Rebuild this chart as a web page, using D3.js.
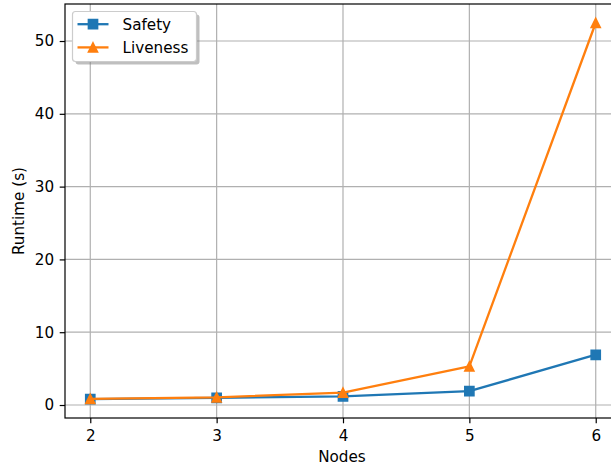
<!DOCTYPE html>
<html><head><meta charset="utf-8">
<script src="https://cdn.jsdelivr.net/npm/d3@7"></script>
<style>body{margin:0;background:#fff}svg{display:block;font-family:"DejaVu Sans",sans-serif}</style>
</head><body><svg id="c" width="611" height="468"></svg>
<script>
const nodes = [2, 3, 4, 5, 6];
const safety = [0.82, 0.97, 1.2, 1.9, 6.9];
const liveness = [0.85, 1.05, 1.7, 5.3, 52.5];
const yTicks = [0, 10, 20, 30, 40, 50];
const seriesNames = ["Safety", "Liveness"];
const colors = ["#1f77b4", "#ff7f0e"];

const FS = 15.2;
const svg = d3.select("#c");
const L = 65, R = 621, T = 4, B = 418;
const x = d3.scaleLinear().domain([1.8, 6.2]).range([L, R]);
const y = d3.scaleLinear().domain([-1.784, 55.084]).range([B, T]);

// matplotlib-like markers: square side = s, triangle base = height = s
const MS = 9.2;
const sq = { draw(ctx, s) { const h = MS / 2; ctx.moveTo(-h, -h); ctx.lineTo(h, -h); ctx.lineTo(h, h); ctx.lineTo(-h, h); ctx.closePath(); } };
const tri = { draw(ctx, s) { const h = MS / 2; ctx.moveTo(0, -h); ctx.lineTo(h, h); ctx.lineTo(-h, h); ctx.closePath(); } };
const markers = [sq, tri];

// grid
const g = svg.append("g");
g.selectAll(".gx").data(nodes).join("line")
  .attr("x1", d => x(d)).attr("x2", d => x(d)).attr("y1", T).attr("y2", B)
  .attr("stroke", "#b0b0b0").attr("stroke-width", 1.2);
g.selectAll(".gy").data(yTicks).join("line")
  .attr("y1", d => y(d)).attr("y2", d => y(d)).attr("x1", L).attr("x2", R)
  .attr("stroke", "#b0b0b0").attr("stroke-width", 1.2);

// axes
const xa = svg.append("g").attr("transform", `translate(0,${B})`)
  .call(d3.axisBottom(x).tickValues(nodes).tickFormat(d3.format("d")).tickSize(5.3).tickPadding(5.3));
const ya = svg.append("g").attr("transform", `translate(${L},0)`)
  .call(d3.axisLeft(y).tickValues(yTicks).tickSize(5.3).tickPadding(5.6));
[xa, ya].forEach(a => {
  a.select(".domain").remove();
  a.selectAll("text").attr("font-size", FS).attr("fill", "#000").attr("font-family", "DejaVu Sans");
  a.selectAll("line").attr("stroke", "#000").attr("stroke-width", 1.2);
});
xa.selectAll("text").attr("dy", "0.82em");

// series
const data = [safety, liveness];
data.forEach((vals, i) => {
  const pts = nodes.map((n, j) => [x(n), y(vals[j])]);
  svg.append("path").attr("d", d3.line()(pts)).attr("fill", "none")
    .attr("stroke", colors[i]).attr("stroke-width", 2.3).attr("stroke-linejoin", "round").attr("stroke-linecap", "square");
  svg.append("g").selectAll("path").data(pts).join("path")
    .attr("transform", d => `translate(${d[0]},${d[1]})`)
    .attr("d", d3.symbol().type(markers[i]).size(1)).attr("fill", colors[i])
    .attr("stroke", colors[i]).attr("stroke-width", 1.5);
});

// spines
svg.append("rect").attr("x", L).attr("y", T).attr("width", R - L).attr("height", B - T)
  .attr("fill", "none").attr("stroke", "#000").attr("stroke-width", 1.2);

// labels
svg.append("text").attr("x", 342).attr("y", 461.5).attr("text-anchor", "middle")
  .attr("font-size", FS).text("Nodes");
svg.append("text").attr("transform", `translate(24,${(T + B) / 2}) rotate(-90)`).attr("text-anchor", "middle")
  .attr("font-size", FS).text("Runtime (s)");

// legend
const lg = svg.append("g");
lg.append("rect").attr("x", 75.5).attr("y", 14.5).attr("width", 124).attr("height", 50).attr("rx", 3)
  .attr("fill", "#7f7f7f").attr("opacity", 0.5);
lg.append("rect").attr("x", 72.5).attr("y", 11.5).attr("width", 124).attr("height", 50).attr("rx", 3)
  .attr("fill", "#fff").attr("stroke", "#cccccc").attr("stroke-width", 1.2);
seriesNames.forEach((nm, i) => {
  const yy = 24.2 + i * 23.2;
  lg.append("line").attr("x1", 77.5).attr("x2", 108.5).attr("y1", yy).attr("y2", yy)
    .attr("stroke", colors[i]).attr("stroke-width", 2.3);
  lg.append("path").attr("transform", `translate(93,${yy})`)
    .attr("d", d3.symbol().type(markers[i]).size(1)).attr("fill", colors[i])
    .attr("stroke", colors[i]).attr("stroke-width", 1.5);
  lg.append("text").attr("x", 122.5).attr("y", yy + 5.3).attr("font-size", FS).text(nm);
});
</script></body></html>
